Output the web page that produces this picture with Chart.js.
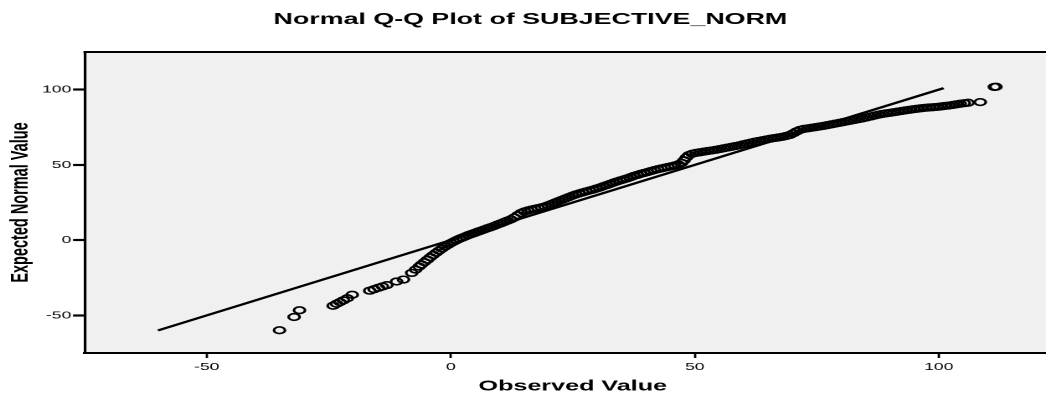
<!DOCTYPE html>
<html>
<head>
<meta charset="utf-8">
<script src="https://cdn.jsdelivr.net/npm/chart.js@4.4.1/dist/chart.umd.min.js"></script>
<style>
  html, body { margin: 0; padding: 0; background: #ffffff; overflow: hidden; }
  #wrap { width: 1046px; height: 394px; overflow: hidden; position: relative; }
  #c { display: block; }
</style>
</head>
<body>
<div id="wrap">
  <canvas id="c" width="640" height="394" style="width:1072px;height:394px;"></canvas>
</div>
<script>
// ---- data ----
const chartTitle = 'Normal Q-Q Plot of SUBJECTIVE_NORM';
const xAxisTitle = 'Observed Value';
const yAxisTitle = 'Expected Normal Value';

const xTickValues = [-50, 0, 50, 100];
const yTickValues = [-50, 0, 50, 100];

const observedValues = [
  -35.1, -32.1, -31.0,
  -24.1, -23.4, -22.7, -22.0, -21.2, -20.2,
  -16.6, -15.7, -14.8, -14.0, -13.1,
  -11.1, -9.7,
  -8.0, -7.2, -6.5, -6.0, -5.4, -4.8, -4.2, -3.6, -3.0, -2.4, -1.8, -1.2, -0.6, 0.0,
  0.6, 1.2, 1.8, 2.4, 3.0, 3.6, 4.2, 4.8, 5.4, 6.0, 6.7, 7.4, 8.1, 8.8, 9.5, 10.2,
  10.9, 11.6, 12.3, 13.0, 13.7, 14.4, 15.1, 15.8, 16.5, 17.2, 17.9, 18.6, 19.3, 20.0,
  20.7, 21.4, 22.1, 22.8, 23.5, 24.2, 24.9, 25.6, 26.3, 27.0, 27.7, 28.4, 29.1, 29.8,
  30.5, 31.2, 31.9, 32.6, 33.3, 34.0, 34.7, 35.4, 36.1, 36.8, 37.5, 38.2, 38.9, 39.6,
  40.3, 41.0, 41.7, 42.4, 43.1, 43.8, 44.5, 45.2, 45.9, 46.6, 47.3, 47.8, 48.3, 48.8,
  49.5, 50.3, 51.1, 51.9, 52.7, 53.5, 54.3, 55.1, 55.9, 56.7, 57.5, 58.3, 59.1, 59.9,
  60.7, 61.5, 62.3, 63.1, 63.9, 64.7, 65.5, 66.3, 67.1, 67.9, 68.7, 69.5, 70.2, 70.9,
  71.6, 72.4, 73.2, 74.0, 74.8, 75.6, 76.4, 77.2, 78.0, 78.8, 79.6, 80.4, 81.2, 82.0,
  82.8, 83.6, 84.4, 85.2, 86.0, 86.8, 87.6, 88.4, 89.2, 90.0, 90.8, 91.6, 92.4, 93.2,
  94.0, 94.8, 95.6, 96.4, 97.2, 98.0, 98.8, 99.6, 100.4, 101.2, 102.0, 102.8, 103.6,
  104.4, 105.2, 106.0, 108.5, 111.4, 111.7
];

const expectedValues = [
  -59.9, -51.1, -46.6,
  -43.6, -42.3, -41.2, -40.0, -38.6, -36.3,
  -33.6, -32.6, -31.6, -30.8, -29.9,
  -27.5, -26.2,
  -21.8, -19.6, -17.6, -16.2, -14.6, -13.0, -11.4, -9.9, -8.4, -7.0, -5.6, -4.3, -3.1, -2.0,
  -1.0, 0.0, 0.9, 1.7, 2.5, 3.3, 4.0, 4.7, 5.4, 6.1, 6.9, 7.7, 8.5, 9.3, 10.2, 11.1,
  12.0, 12.9, 13.8, 15.0, 16.5, 18.0, 19.0, 19.7, 20.3, 20.8, 21.3, 21.8, 22.4, 23.2,
  24.1, 25.0, 25.9, 26.8, 27.7, 28.6, 29.5, 30.3, 31.0, 31.7, 32.3, 32.9, 33.5, 34.2,
  34.9, 35.7, 36.5, 37.3, 38.1, 38.9, 39.6, 40.3, 41.0, 41.8, 42.6, 43.3, 44.0, 44.6,
  45.2, 45.9, 46.5, 47.1, 47.6, 48.1, 48.6, 49.1, 49.6, 50.3, 51.3, 53.0, 55.0, 56.5,
  57.4, 58.0, 58.4, 58.8, 59.2, 59.6, 60.0, 60.5, 61.0, 61.5, 62.0, 62.5, 63.0, 63.6,
  64.2, 64.8, 65.4, 65.9, 66.4, 66.9, 67.4, 67.8, 68.2, 68.6, 69.2, 69.9, 71.0, 72.3,
  73.3, 73.9, 74.3, 74.7, 75.1, 75.5, 75.9, 76.4, 76.9, 77.4, 77.9, 78.4, 78.9, 79.4,
  79.9, 80.4, 80.9, 81.5, 82.1, 82.7, 83.3, 83.8, 84.2, 84.6, 85.0, 85.4, 85.8, 86.2,
  86.6, 87.0, 87.3, 87.6, 87.9, 88.1, 88.3, 88.5, 88.8, 89.1, 89.4, 89.8, 90.2,
  90.6, 91.0, 91.3, 91.7, 101.8, 101.9
];

const refLineX = [-60, 101];
const refLineY = [-60, 101];

const xRange = [-75, 125];
const yRange = [-75, 125];

// ---- chart ----
const FONT = "'Liberation Sans', Arial, Helvetica, sans-serif";

const pointData = observedValues.map((v, i) => ({ x: v, y: expectedValues[i] }));
const lineData = refLineX.map((v, i) => ({ x: v, y: refLineY[i] }));

const frame = {
  id: 'frame',
  beforeDraw(chart) {
    const { ctx, chartArea: a } = chart;
    ctx.save();
    ctx.fillStyle = '#f0f0f0';
    ctx.fillRect(a.left, a.top, a.right - a.left, a.bottom - a.top);
    ctx.restore();
  },
  afterDraw(chart) {
    const { ctx, chartArea: a } = chart;
    ctx.save();
    ctx.strokeStyle = '#000';
    ctx.lineWidth = 2;
    ctx.beginPath();
    ctx.moveTo(a.left - 0.8, a.top);
    ctx.lineTo(a.right + 1, a.top);
    ctx.stroke();
    ctx.lineWidth = 1.6;
    ctx.beginPath();
    ctx.moveTo(a.right, a.top);
    ctx.lineTo(a.right, a.bottom);
    ctx.stroke();
    ctx.restore();
  }
};

new Chart(document.getElementById('c'), {
  type: 'scatter',
  data: {
    datasets: [
      {
        label: 'Observed',
        data: pointData,
        showLine: false,
        pointStyle: 'circle',
        pointRadius: 3.3,
        pointBorderWidth: 1.6,
        pointBorderColor: '#000000',
        pointBackgroundColor: 'rgba(0,0,0,0)',
        order: 2
      },
      {
        label: 'Reference',
        data: lineData,
        showLine: true,
        borderColor: '#000000',
        borderWidth: 2.2,
        pointRadius: 0,
        fill: false,
        order: 1
      }
    ]
  },
  plugins: [frame],
  options: {
    responsive: false,
    animation: false,
    devicePixelRatio: 2,
    layout: { padding: { left: 0, right: 6.7, top: 0, bottom: 0 } },
    plugins: {
      legend: { display: false },
      tooltip: { enabled: false },
      title: {
        display: true,
        text: chartTitle,
        color: '#000',
        font: { family: FONT, size: 16, weight: 'bold', lineHeight: 1.2 },
        padding: { top: 10, bottom: 22.8 }
      }
    },
    scales: {
      x: {
        type: 'linear',
        position: 'bottom',
        min: xRange[0],
        max: xRange[1],
        afterBuildTicks(scale) { scale.ticks = xTickValues.map(v => ({ value: v })); },
        afterFit(scale) { scale.height = 41; },
        grid: {
          drawOnChartArea: false,
          drawTicks: true,
          tickLength: 5,
          tickWidth: 1.4,
          tickColor: '#000'
        },
        border: { display: true, color: '#000', width: 2 },
        ticks: {
          color: '#000',
          padding: 3,
          font: { family: FONT, size: 10.5 },
          maxRotation: 0
        },
        title: {
          display: true,
          text: xAxisTitle,
          color: '#000',
          font: { family: FONT, size: 15, weight: 'bold', lineHeight: 1 },
          padding: { top: 0, bottom: 0 }
        }
      },
      y: {
        type: 'linear',
        position: 'left',
        min: yRange[0],
        max: yRange[1],
        afterBuildTicks(scale) { scale.ticks = yTickValues.map(v => ({ value: v })); },
        afterFit(scale) { scale.width = 50.6; },
        grid: {
          drawOnChartArea: false,
          drawTicks: true,
          tickLength: 7,
          tickWidth: 2.2,
          tickColor: '#000'
        },
        border: { display: true, color: '#000', width: 1.6 },
        ticks: {
          color: '#000',
          padding: 1,
          font: { family: FONT, size: 10.5 }
        },
        title: {
          display: true,
          text: yAxisTitle,
          color: '#000',
          font: { family: FONT, size: 14.5, weight: 'bold', lineHeight: 1.2 },
          padding: { top: 3.7, bottom: 0 }
        }
      }
    }
  }
});
</script>
</body>
</html>
